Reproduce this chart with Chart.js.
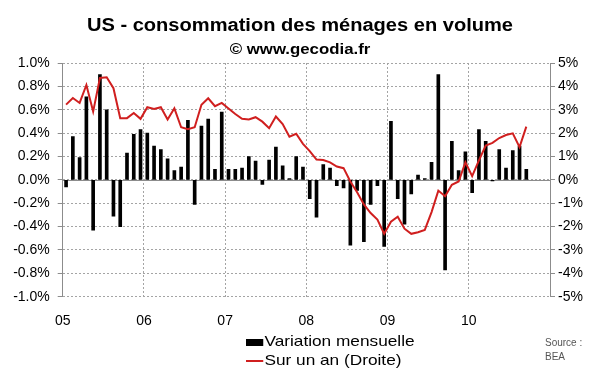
<!DOCTYPE html>
<html>
<head>
<meta charset="utf-8">
<script src="https://cdn.jsdelivr.net/npm/chart.js@4/dist/chart.umd.min.js"></script>
<style>
  body { margin: 0; background: #fff; font-family: "Liberation Sans", Arial, sans-serif; }
  #wrap { position: relative; width: 600px; height: 372px; }
  .t { position: absolute; left: 0; width: 600px; text-align: center; font-weight: bold; color: #000; white-space: nowrap; }
  #title { top: 15px; font-size: 18px; transform: scaleX(1.115); }
  #sub { top: 40px; font-size: 15px; transform: scaleX(1.12); }
  .leg { position: absolute; left: 246px; font-size: 15px; color: #000; white-space: nowrap; transform-origin: left center; transform: scaleX(1.15); line-height: 18px; }
  .leg i { display: inline-block; width: 15px; vertical-align: middle; margin-right: 1px; }
  #source { position: absolute; left: 545px; top: 336px; font-size: 10px; line-height: 14px; color: #555; }
</style>
</head>
<body>
<div id="wrap">
  <canvas id="myChart" width="600" height="372"></canvas>
  <div class="t" id="title">US - consommation des ménages en volume</div>
  <div class="t" id="sub">© www.gecodia.fr</div>
  <div class="leg" style="top:332px"><i style="height:7px;background:#000"></i>Variation mensuelle</div>
  <div class="leg" style="top:351px"><i style="height:2px;background:#d01f1f"></i>Sur un an (Droite)</div>
  <div id="source">Source :<br>BEA</div>
</div>
<script>
// années (étiquettes de l'axe x), une par janvier
const years = ['05', '06', '07', '08', '09', '10'];
// variation mensuelle en %, janv. 2005 -> sept. 2010
const monthly = [
  -0.06, 0.37, 0.19, 0.71, -0.43, 0.90, 0.60, -0.31, -0.40, 0.23, 0.39, 0.43,
  0.40, 0.29, 0.26, 0.18, 0.08, 0.11, 0.51, -0.21, 0.46, 0.52, 0.09, 0.58,
  0.09, 0.09, 0.10, 0.20, 0.16, -0.04, 0.17, 0.28, 0.12, 0.01, 0.20, 0.11,
  -0.16, -0.32, 0.13, 0.10, -0.05, -0.07, -0.56, -0.09, -0.53, -0.21, -0.05, -0.57,
  0.50, -0.16, -0.38, -0.12, 0.04, 0.01, 0.15, 0.90, -0.77, 0.33, 0.08, 0.24,
  -0.11, 0.43, 0.33, -0.01, 0.26, 0.10, 0.25, 0.29, 0.09
];
// glissement sur un an en % (axe de droite)
const annual = [
  3.22, 3.50, 3.29, 4.06, 2.92, 4.36, 4.39, 3.92, 2.64, 2.64, 2.86, 2.61,
  3.11, 3.03, 3.11, 2.58, 3.06, 2.25, 2.17, 2.25, 3.21, 3.49, 3.15, 3.29,
  3.05, 2.82, 2.61, 2.58, 2.68, 2.49, 2.21, 2.71, 2.39, 1.85, 1.97, 1.54,
  1.23, 0.87, 0.85, 0.75, 0.57, 0.50, -0.07, -0.53, -1.05, -1.42, -1.70, -2.31,
  -1.79, -1.58, -2.09, -2.31, -2.24, -2.14, -1.38, -0.46, -0.70, -0.21, -0.07, 0.75,
  0.16, 0.83, 1.47, 1.58, 1.79, 1.92, 1.99, 1.40, 2.28
];

const barPts = monthly.map((v, i) => ({ x: i + 0.5, y: v }));
const linePts = annual.map((v, i) => ({ x: i + 0.5, y: v }));

const tickFont = { family: '"Liberation Sans", Arial, sans-serif', size: 14 };

// ligne du zéro, pleine
const zeroLine = {
  id: 'zeroLine',
  beforeDatasetsDraw(chart) {
    const ctx = chart.ctx, a = chart.chartArea;
    const y = chart.scales.y.getPixelForValue(0);
    ctx.save();
    ctx.strokeStyle = '#8c8c8c';
    ctx.lineWidth = 1;
    ctx.beginPath();
    ctx.moveTo(a.left, Math.round(y) + 0.5);
    ctx.lineTo(a.right, Math.round(y) + 0.5);
    ctx.stroke();
    ctx.restore();
  }
};

new Chart(document.getElementById('myChart').getContext('2d'), {
  data: {
    datasets: [
      {
        type: 'line',
        label: 'Sur un an (Droite)',
        data: linePts,
        yAxisID: 'y2',
        borderColor: '#d01f1f',
        borderWidth: 2,
        pointRadius: 0,
        tension: 0,
        order: 0
      },
      {
        type: 'bar',
        label: 'Variation mensuelle',
        data: barPts,
        yAxisID: 'y',
        backgroundColor: '#000',
        barThickness: 3,
        order: 1
      }
    ]
  },
  options: {
    responsive: false,
    animation: false,
    layout: { padding: { top: 63, left: 0, right: 0, bottom: 0 } },
    plugins: { legend: { display: false }, tooltip: { enabled: false } },
    scales: {
      x: {
        type: 'linear',
        offset: false,
        min: 0,
        max: 72,
        afterFit: s => { s.height = 75.3; },
        ticks: {
          stepSize: 12,
          padding: 16,
          color: '#000',
          font: tickFont,
          maxRotation: 0,
          callback: v => years[v / 12] || ''
        },
        grid: { color: '#a4a4a4', drawTicks: false, offset: false },
        border: { display: false, dash: [2, 2] }
      },
      y: {
        position: 'left',
        min: -1,
        max: 1,
        afterFit: s => { s.width = 62.7; },
        ticks: {
          stepSize: 0.2,
          padding: 8,
          color: '#000',
          font: tickFont,
          callback: v => v.toFixed(1) + '%'
        },
        grid: { color: '#a4a4a4', tickLength: 5, tickColor: '#8c8c8c', tickBorderDash: [] },
        border: { display: true, color: '#8c8c8c', dash: [2, 2] }
      },
      y2: {
        position: 'right',
        min: -5,
        max: 5,
        afterFit: s => { s.width = 50; },
        ticks: {
          stepSize: 1,
          padding: 3,
          color: '#000',
          font: tickFont,
          callback: v => Math.round(v) + '%'
        },
        grid: { drawOnChartArea: false, tickLength: 5, color: '#8c8c8c' },
        border: { display: true, color: '#8c8c8c' }
      }
    }
  },
  plugins: [zeroLine]
});
</script>
</body>
</html>
